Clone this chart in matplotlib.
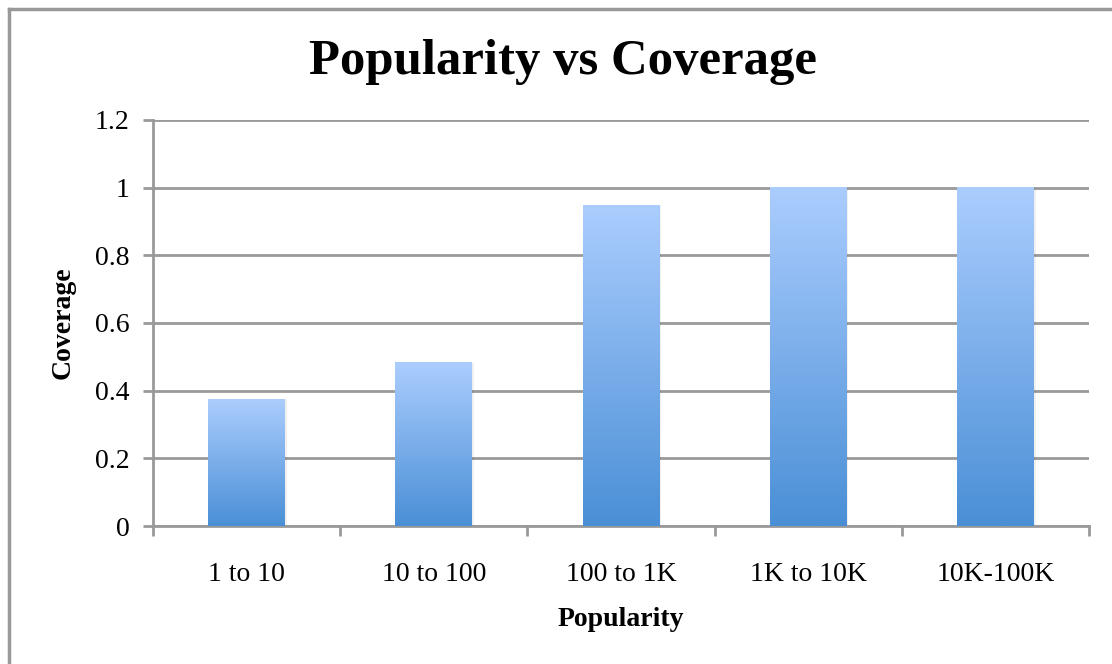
import numpy as np
import matplotlib
matplotlib.use("Agg")
from matplotlib import pyplot as plt
from matplotlib.colors import LinearSegmentedColormap
from matplotlib.lines import Line2D

categories = ["1 to 10", "10 to 100", "100 to 1K", "1K to 10K", "10K-100K"]
coverage = [0.375, 0.482, 0.946, 1.0, 1.0]
yticks = [0, 0.2, 0.4, 0.6, 0.8, 1, 1.2]
ytick_labels = ["0", "0.2", "0.4", "0.6", "0.8", "1", "1.2"]

plt.rcParams['font.family'] = ['Liberation Serif', 'DejaVu Serif']

fig = plt.figure(figsize=(11.12, 6.64), dpi=100)
ax = fig.add_axes([153/1112, 1 - 526/664, (1089-153)/1112, (526-120)/664])

grid_col = "#999999"
cmap = LinearSegmentedColormap.from_list("bar", ["#4a8fd6", "#abcdfe"])
grad = np.linspace(0, 1, 256).reshape(-1, 1)

x = np.arange(len(categories))
width = 0.41
for xi, v in zip(x, coverage):
    # faint shadow
    ax.bar(xi + 0.01, v, width, bottom=0, color="#000000", alpha=0.06, zorder=2)
    ax.imshow(grad, cmap=cmap, origin="lower", aspect="auto",
              extent=[xi - width/2, xi + width/2, 0, v], zorder=3)

ax.set_xlim(-0.5, len(categories) - 0.5)
ax.set_ylim(0, 1.2)
ax.set_yticks(yticks)
ax.set_yticklabels(ytick_labels, fontsize=20)
ax.set_xticks(x)
ax.set_xticklabels(categories, fontsize=20)
ax.tick_params(axis="x", length=0, pad=26)
ax.tick_params(axis="y", length=7, width=2, color=grid_col, pad=10)
ax.set_xticks(np.arange(-0.5, len(categories)), minor=True)
ax.tick_params(axis="x", which="minor", length=7, width=2, color=grid_col)

for s in ["top", "right"]:
    ax.spines[s].set_visible(False)
ax.spines["left"].set_color(grid_col)
ax.spines["left"].set_linewidth(2)
ax.spines["bottom"].set_color(grid_col)
ax.spines["bottom"].set_linewidth(2)
ax.yaxis.grid(True, color=grid_col, linewidth=2)
ax.set_axisbelow(True)

ax.set_ylabel("Coverage", fontsize=20, fontweight="bold", labelpad=14)
ax.set_xlabel("Popularity", fontsize=20, fontweight="bold", labelpad=14)
fig.text(563/1112, 1 - 62/664, "Popularity vs Coverage", fontsize=36.5,
         fontweight="bold", ha="center", va="center")

# chart frame (top and left edges)
fig.add_artist(Line2D([9/1112, 9/1112], [0, 1 - 9/664], color=grid_col, lw=2.5,
                      transform=fig.transFigure))
fig.add_artist(Line2D([9/1112, 1], [1 - 9/664, 1 - 9/664], color=grid_col, lw=2.5,
                      transform=fig.transFigure))

fig.savefig("out.png", dpi=100)
